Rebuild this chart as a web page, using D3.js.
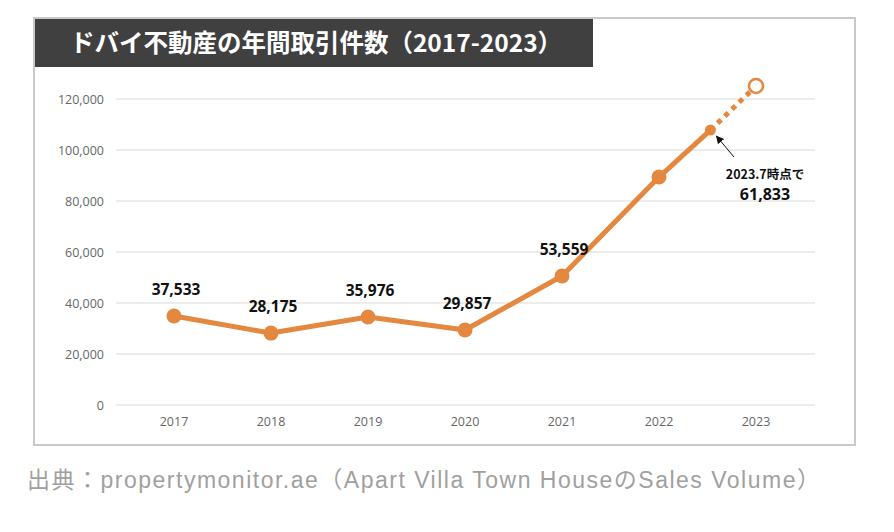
<!DOCTYPE html>
<html><head><meta charset="utf-8">
<script src="https://cdn.jsdelivr.net/npm/d3@7"></script>
<style>
body{margin:0;background:#fff;}
svg{display:block;}
</style></head>
<body><svg id="c" width="894" height="532"></svg>
<script>
const years = ["2017","2018","2019","2020","2021","2022","2023"];
const plotValues = [34900, 28200, 34500, 29400, 50600, 89400];
const valueLabels = ["37,533","28,175","35,976","29,857","53,559",""];
const partialValue = 107800;   // 2023 partial point
const partialPos = 0.53;       // fraction between 2022 and 2023
const forecastValue = 125100;  // 2023 open circle
const yTicks = [0,20000,40000,60000,80000,100000,120000];
const titleText = "ドバイ不動産の年間取引件数（2017-2023）";
const noteLine1 = "2023.7時点で";
const noteLine2 = "61,833";
const sourceText = "出典：propertymonitor.ae（Apart Villa Town HouseのSales Volume）";

const orange = "#E5883F";
const svg = d3.select("#c");

// frame
svg.append("rect").attr("x",34).attr("y",18).attr("width",821).attr("height",427)
  .attr("fill","#fff").attr("stroke","#c9c9c9").attr("stroke-width",2);

// title
svg.append("rect").attr("x",35).attr("y",19).attr("width",558).attr("height",48).attr("fill","#404040");
svg.append("text").attr("x",316).attr("y",52).attr("text-anchor","middle")
  .attr("fill","#fff").attr("font-family","'Noto Sans CJK JP'").attr("font-weight","bold")
  .attr("font-size",24.5).text(titleText);

const x = d3.scaleBand().domain(years).range([125.5,804.5]);
const y = d3.scaleLinear().domain([0,120000]).range([405,99]);
const cx = d => x(d)+x.bandwidth()/2;

// grid
svg.append("g").selectAll("line").data(yTicks).join("line")
  .attr("x1",116).attr("x2",815).attr("y1",d=>y(d)).attr("y2",d=>y(d))
  .attr("stroke","#d9d9d9").attr("stroke-width",1);

// y axis labels
const yAxis = d3.axisLeft(y).tickValues(yTicks).tickSize(0).tickPadding(0)
  .tickFormat(d3.format(","));
const ga = svg.append("g").attr("transform","translate(104,0)").call(yAxis);
ga.select(".domain").remove();
ga.selectAll("text").attr("fill","#666").attr("font-family","'Open Sans'").attr("font-size",12.5);

// x axis labels
const xAxis = d3.axisBottom(x).tickSize(0).tickPadding(0);
const gx = svg.append("g").attr("transform","translate(0,417)").call(xAxis);
gx.select(".domain").remove();
gx.selectAll("text").attr("fill","#666").attr("font-family","'Open Sans'").attr("font-size",12.5);

// points data
const pts = plotValues.map((v,i)=>({x:cx(years[i]),y:y(v),label:valueLabels[i]}));
const px = cx("2022") + partialPos*x.step();
const py = y(partialValue);
const fx = cx("2023"), fy = y(forecastValue);

// dotted forecast segment
svg.append("line").attr("x1",px).attr("y1",py).attr("x2",fx).attr("y2",fy)
  .attr("stroke",orange).attr("stroke-width",5).attr("stroke-dasharray","5,5");

// main line
const line = d3.line().x(d=>d[0]).y(d=>d[1]);
svg.append("path").attr("d",line(pts.map(p=>[p.x,p.y]).concat([[px,py]])))
  .attr("fill","none").attr("stroke",orange).attr("stroke-width",5).attr("stroke-linejoin","round");

svg.append("g").selectAll("circle").data(pts).join("circle")
  .attr("cx",d=>d.x).attr("cy",d=>d.y).attr("r",7.5).attr("fill",orange);
svg.append("circle").attr("cx",px).attr("cy",py).attr("r",5.5).attr("fill",orange);
svg.append("circle").attr("cx",fx).attr("cy",fy).attr("r",7).attr("fill","#fff")
  .attr("stroke",orange).attr("stroke-width",2.5);

// value labels
svg.append("g").selectAll("text").data(pts.filter(p=>p.label)).join("text")
  .attr("x",d=>d.x+2).attr("y",d=>d.y-21).attr("text-anchor","middle")
  .attr("font-family","'Open Sans'").attr("font-weight","bold").attr("font-size",15.5)
  .attr("fill","#111").text(d=>d.label);

// annotation arrow
svg.append("defs").append("marker").attr("id","ah").attr("viewBox","0 0 10 10")
  .attr("refX",9).attr("refY",5).attr("markerWidth",8).attr("markerHeight",8)
  .attr("orient","auto").attr("markerUnits","userSpaceOnUse")
  .append("path").attr("d","M0,0 L10,5 L0,10 z").attr("fill","#111");
svg.append("line").attr("x1",734).attr("y1",157).attr("x2",px+6).attr("y2",py+6)
  .attr("stroke","#111").attr("stroke-width",1).attr("marker-end","url(#ah)");

svg.append("text").attr("x",765).attr("y",179).attr("text-anchor","middle")
  .attr("font-family","'Noto Sans CJK JP'").attr("font-weight","bold").attr("font-size",12.5)
  .attr("fill","#111").text(noteLine1);
svg.append("text").attr("x",765).attr("y",200).attr("text-anchor","middle")
  .attr("font-family","'Open Sans'").attr("font-weight","bold").attr("font-size",16)
  .attr("fill","#111").text(noteLine2);

// source
svg.append("text").attr("x",27).attr("y",488)
  .attr("font-family","'Liberation Sans','Noto Sans CJK JP'").attr("font-size",23)
  .attr("textLength",793).attr("lengthAdjust","spacing")
  .attr("fill","#a0a0a0").text(sourceText);
</script></body></html>
